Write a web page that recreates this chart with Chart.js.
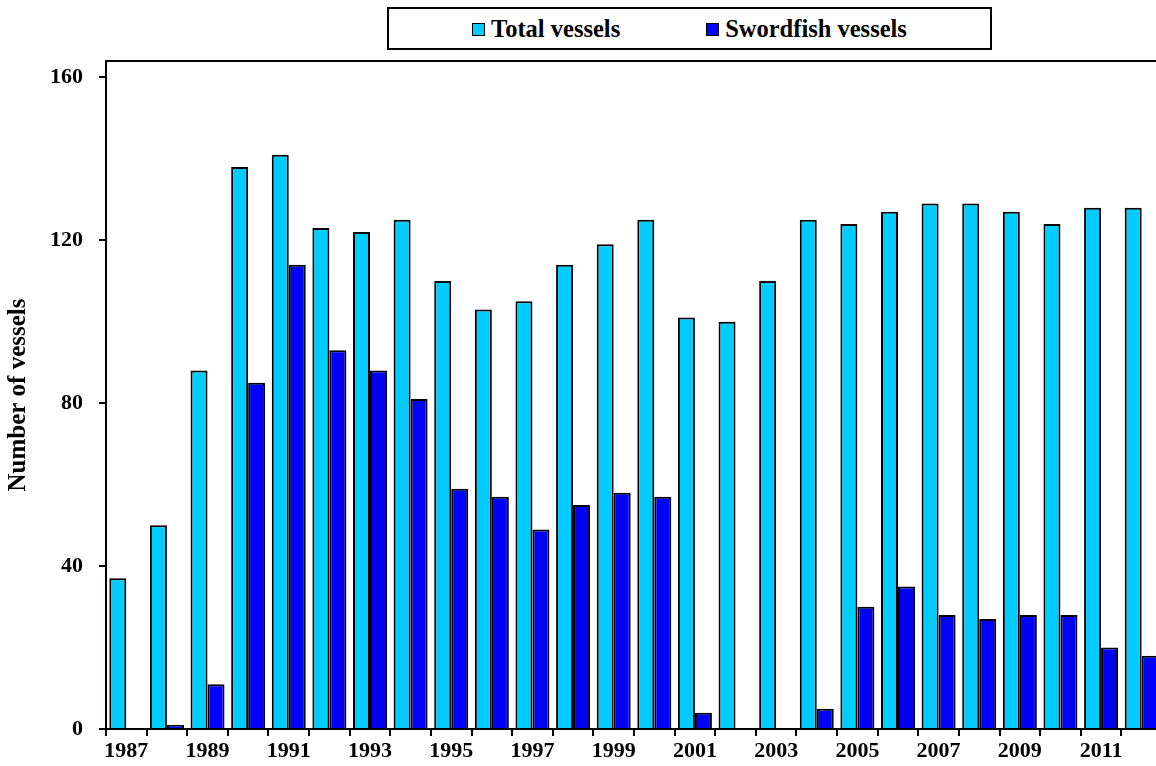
<!DOCTYPE html>
<html>
<head>
<meta charset="utf-8">
<title>Number of vessels</title>
<script src="https://cdn.jsdelivr.net/npm/chart.js@4.4.1/dist/chart.umd.min.js"></script>
<style>
  html, body { margin: 0; padding: 0; background: #fff; overflow: hidden; }
  #wrap { position: relative; width: 1156px; height: 766px; overflow: hidden; }
  #chart { position: absolute; left: 0; top: 0; }
  #legend {
    position: absolute; left: 387px; top: 7px; width: 605px; height: 43px;
    box-sizing: border-box; border: 2px solid #000; background: #fff;
    display: flex; align-items: center; justify-content: center; gap: 86px;
    font: bold 24.5px "Liberation Serif", "Times New Roman", serif; color: #000;
  }
  .item { display: flex; align-items: center; gap: 6px; }
  .swatch { width: 11px; height: 11px; border: 1px solid #000; margin-top: 2px; }
</style>
</head>
<body>
<div id="wrap">
  <canvas id="chart" width="1162" height="766"></canvas>
  <div id="legend"></div>
</div>
<script>
// Vessels per year
const years = ['1987', '1988', '1989', '1990', '1991', '1992', '1993', '1994', '1995', '1996',
  '1997', '1998', '1999', '2000', '2001', '2002', '2003', '2004', '2005', '2006',
  '2007', '2008', '2009', '2010', '2011', '2012'];
const totalVessels = [37, 50, 88, 138, 141, 123, 122, 125, 110, 103,
  105, 114, 119, 125, 101, 100, 110, 125, 124, 127,
  129, 129, 127, 124, 128, 128];
const swordfishVessels = [0, 1, 11, 85, 114, 93, 88, 81, 59, 57,
  49, 55, 58, 57, 4, 0, 0, 5, 30, 35,
  28, 27, 28, 28, 20, 18];
const yTicks = [0, 40, 80, 120, 160];

const serif = '"Liberation Serif", "Times New Roman", serif';

const datasets = [
  { label: 'Total vessels', data: totalVessels, backgroundColor: '#00ccff' },
  { label: 'Swordfish vessels', data: swordfishVessels, backgroundColor: '#0000ff' }
].map(d => Object.assign(d, {
  borderColor: '#000',
  borderWidth: 2,
  categoryPercentage: 0.837,
  barPercentage: 1.0
}));

// plot frame (top + right edge)
const frame = {
  id: 'frame',
  afterDraw(chart) {
    const { ctx, chartArea: a } = chart;
    ctx.save();
    ctx.strokeStyle = '#000';
    ctx.lineWidth = 2;
    ctx.beginPath();
    ctx.moveTo(a.left, a.top);
    ctx.lineTo(a.right, a.top);
    ctx.lineTo(a.right, a.bottom);
    ctx.stroke();
    ctx.restore();
  }
};

new Chart(document.getElementById('chart'), {
  type: 'bar',
  data: { labels: years, datasets },
  plugins: [frame],
  options: {
    responsive: false,
    animation: false,
    layout: { padding: { top: 61, left: 0, right: 0, bottom: 0 } },
    plugins: { legend: { display: false }, tooltip: { enabled: false } },
    scales: {
      x: {
        afterFit: s => { s.height = 37; },
        grid: { offset: true, drawOnChartArea: false, drawTicks: true, tickLength: 7, color: '#000', lineWidth: 2 },
        border: { display: true, color: '#000', width: 2 },
        ticks: {
          autoSkip: false, maxRotation: 0, padding: 2, color: '#000',
          font: { family: serif, size: 22, weight: 'bold' },
          callback: (v, i) => (i % 2 === 0 ? years[i] : '')
        }
      },
      y: {
        min: 0, max: 164,
        afterFit: s => { s.width = 106; },
        afterBuildTicks: s => { s.ticks = yTicks.map(v => ({ value: v })); },
        grid: { drawOnChartArea: false, drawTicks: true, tickLength: 7, color: '#000', lineWidth: 2 },
        border: { display: true, color: '#000', width: 2 },
        ticks: { padding: 16, color: '#000', font: { family: serif, size: 22, weight: 'bold' } },
        title: {
          display: true, text: 'Number of vessels', color: '#000',
          padding: { top: 4, bottom: 0 },
          font: { family: serif, size: 25, weight: 'bold' }
        }
      }
    }
  }
});

// legend box
const legendEl = document.getElementById('legend');
legendEl.innerHTML = datasets.map(d =>
  `<div class="item"><span class="swatch" style="background:${d.backgroundColor}"></span><span>${d.label}</span></div>`
).join('');
</script>
</body>
</html>
